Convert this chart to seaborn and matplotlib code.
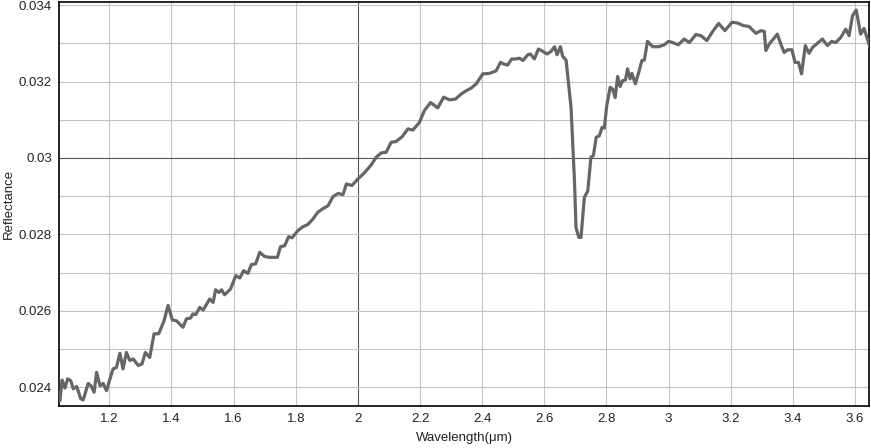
import matplotlib
matplotlib.use("Agg")
import matplotlib.pyplot as plt
import seaborn as sns
import pandas as pd
import numpy as np

wavelength = [
    1.041, 1.048, 1.057, 1.066, 1.076, 1.084, 1.095, 1.108, 1.116, 1.132, 1.141, 1.151, 1.159, 1.170,
    1.180, 1.191, 1.202, 1.212, 1.223, 1.234, 1.244, 1.255, 1.266, 1.277, 1.293, 1.305, 1.316, 1.330,
    1.344, 1.359, 1.376, 1.389, 1.403, 1.416, 1.437, 1.448, 1.461, 1.469, 1.478, 1.491, 1.502, 1.523,
    1.534, 1.542, 1.553, 1.561, 1.571, 1.590, 1.607, 1.620, 1.632, 1.646, 1.657, 1.671, 1.684, 1.700,
    1.716, 1.741, 1.751, 1.764, 1.777, 1.788, 1.807, 1.823, 1.839, 1.855, 1.871, 1.887, 1.904, 1.920,
    1.936, 1.952, 1.963, 1.981, 2.000, 2.022, 2.043, 2.059, 2.075, 2.091, 2.107, 2.123, 2.143, 2.161,
    2.177, 2.198, 2.214, 2.234, 2.257, 2.276, 2.295, 2.314, 2.332, 2.349, 2.365, 2.381, 2.402, 2.423,
    2.445, 2.459, 2.469, 2.482, 2.495, 2.509, 2.520, 2.531, 2.547, 2.555, 2.568, 2.581, 2.595, 2.609,
    2.622, 2.633, 2.641, 2.652, 2.659, 2.670, 2.678, 2.686, 2.691, 2.697, 2.702, 2.711, 2.718, 2.729,
    2.740, 2.750, 2.758, 2.767, 2.777, 2.786, 2.793, 2.801, 2.812, 2.820, 2.828, 2.836, 2.844, 2.852,
    2.861, 2.868, 2.876, 2.882, 2.893, 2.904, 2.914, 2.922, 2.932, 2.949, 2.968, 2.986, 3.000, 3.013,
    3.031, 3.050, 3.067, 3.088, 3.104, 3.123, 3.142, 3.161, 3.181, 3.204, 3.222, 3.241, 3.259, 3.281,
    3.297, 3.308, 3.313, 3.324, 3.350, 3.361, 3.372, 3.383, 3.397, 3.407, 3.418, 3.428, 3.440, 3.452,
    3.463, 3.479, 3.495, 3.511, 3.525, 3.538, 3.554, 3.570, 3.581, 3.592, 3.604, 3.618, 3.629, 3.648,
]
reflectance = [
    0.02365, 0.02419, 0.02398, 0.02422, 0.02417, 0.02396, 0.02402, 0.02370, 0.02367, 0.02410, 0.02404, 0.02387, 0.02439, 0.02404,
    0.02410, 0.02391, 0.02422, 0.02448, 0.02452, 0.02489, 0.02448, 0.02491, 0.02470, 0.02474, 0.02457, 0.02461, 0.02491, 0.02478,
    0.02540, 0.02540, 0.02574, 0.02614, 0.02576, 0.02574, 0.02557, 0.02579, 0.02581, 0.02592, 0.02590, 0.02609, 0.02602, 0.02631,
    0.02622, 0.02655, 0.02648, 0.02655, 0.02642, 0.02657, 0.02692, 0.02686, 0.02705, 0.02698, 0.02721, 0.02723, 0.02753, 0.02742,
    0.02740, 0.02740, 0.02768, 0.02770, 0.02794, 0.02791, 0.02810, 0.02820, 0.02826, 0.02840, 0.02858, 0.02867, 0.02875, 0.02899,
    0.02907, 0.02904, 0.02932, 0.02928, 0.02945, 0.02962, 0.02982, 0.03002, 0.03013, 0.03015, 0.03041, 0.03043, 0.03056, 0.03076,
    0.03073, 0.03093, 0.03124, 0.03145, 0.03131, 0.03159, 0.03152, 0.03154, 0.03167, 0.03176, 0.03183, 0.03194, 0.03220, 0.03221,
    0.03228, 0.03250, 0.03246, 0.03243, 0.03259, 0.03259, 0.03261, 0.03255, 0.03270, 0.03272, 0.03259, 0.03285, 0.03279, 0.03272,
    0.03279, 0.03291, 0.03270, 0.03291, 0.03266, 0.03256, 0.03194, 0.03132, 0.03045, 0.02941, 0.02818, 0.02792, 0.02792, 0.02897,
    0.02914, 0.03002, 0.03006, 0.03054, 0.03058, 0.03080, 0.03078, 0.03137, 0.03185, 0.03180, 0.03158, 0.03213, 0.03187, 0.03202,
    0.03204, 0.03233, 0.03207, 0.03221, 0.03194, 0.03224, 0.03255, 0.03256, 0.03305, 0.03291, 0.03291, 0.03296, 0.03305, 0.03302,
    0.03296, 0.03311, 0.03302, 0.03323, 0.03320, 0.03307, 0.03331, 0.03352, 0.03333, 0.03355, 0.03353, 0.03346, 0.03344, 0.03326,
    0.03333, 0.03331, 0.03281, 0.03298, 0.03324, 0.03298, 0.03276, 0.03283, 0.03283, 0.03250, 0.03250, 0.03220, 0.03294, 0.03274,
    0.03289, 0.03300, 0.03311, 0.03294, 0.03305, 0.03302, 0.03315, 0.03337, 0.03320, 0.03372, 0.03387, 0.03324, 0.03339, 0.03290,
]

x_ticks = [1.2, 1.4, 1.6, 1.8, 2.0, 2.2, 2.4, 2.6, 2.8, 3.0, 3.2, 3.4, 3.6]
x_tick_labels = ["1.2", "1.4", "1.6", "1.8", "2", "2.2", "2.4", "2.6", "2.8", "3", "3.2", "3.4", "3.6"]
y_ticks = [0.024, 0.026, 0.028, 0.030, 0.032, 0.034]
y_tick_labels = ["0.024", "0.026", "0.028", "0.03", "0.032", "0.034"]
y_grid = [0.024, 0.025, 0.026, 0.027, 0.028, 0.029, 0.030, 0.031, 0.032, 0.033, 0.034]

df = pd.DataFrame({"Wavelength": wavelength, "Reflectance": reflectance})

sns.set_theme(style="white")
plt.rcParams["font.family"] = ["Liberation Sans", "DejaVu Sans"]

fig = plt.figure(figsize=(8.71, 4.48), dpi=100)
ax = fig.add_axes([59 / 871, 1 - 406 / 448, (869 - 59) / 871, (406 - 2) / 448])

ax.set_xlim(1.038, 3.645)
ax.set_ylim(0.02351, 0.03408)

for xv in x_ticks:
    c = "#555555" if abs(xv - 2.0) < 1e-9 else "#c4c4c4"
    ax.axvline(xv, color=c, linewidth=0.8, zorder=0)
for yv in y_grid:
    c = "#555555" if abs(yv - 0.030) < 1e-9 else "#c4c4c4"
    ax.axhline(yv, color=c, linewidth=0.8, zorder=0)

sns.lineplot(data=df, x="Wavelength", y="Reflectance", ax=ax, color="#666666",
             linewidth=2.3, sort=False, estimator=None, zorder=3)

ax.set_xticks(x_ticks)
ax.set_xticklabels(x_tick_labels)
ax.set_yticks(y_ticks)
ax.set_yticklabels(y_tick_labels)
ax.tick_params(axis="both", length=0, labelsize=9.5, colors="#222222", pad=5)
ax.set_xlabel("Wavelength(μm)", fontsize=9.5, color="#222222")
ax.set_ylabel("Reflectance", fontsize=9.5, color="#222222")
ax.xaxis.set_label_coords(0.5, -0.065)
ax.yaxis.set_label_coords(-0.054, 0.5)

for s in ax.spines.values():
    s.set_visible(True)
    s.set_color("black")
    s.set_linewidth(1.2)

fig.savefig("out.png", dpi=100)
